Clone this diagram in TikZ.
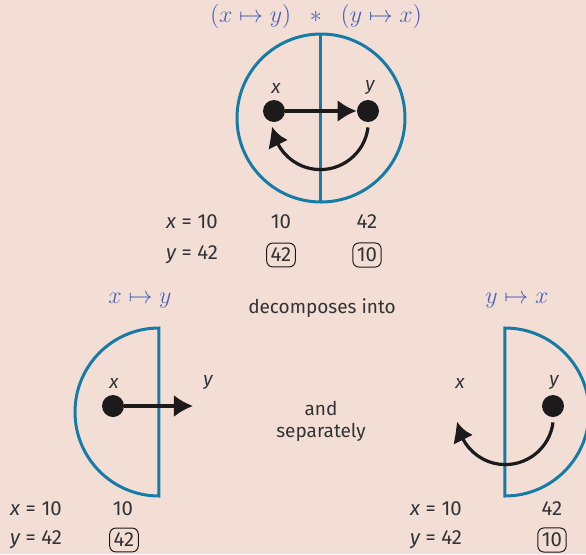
\documentclass[tikz,border=0pt]{standalone}
\usepackage{fontspec}
\setsansfont{Fira Sans}
\usetikzlibrary{arrows.meta,bending}
\definecolor{paper}{HTML}{F3DED6}
\definecolor{ringblue}{HTML}{167BA6}
\definecolor{mapblue}{HTML}{4C62B8}
\definecolor{ink}{HTML}{1C1A1A}
\definecolor{txt}{HTML}{333333}

\begin{document}
\begin{tikzpicture}[x=0.5pt, y=0.5pt,
    every node/.style={font=\sffamily\fontsize{9.5}{11}\selectfont, text=txt},
    vals/.style={font=\sffamily\fontsize{10.2}{12}\selectfont},
    maptitle/.style={font=\fontsize{11.5}{13}\selectfont, text=mapblue},
    var/.style={font=\sffamily\itshape\fontsize{9.5}{11}\selectfont},
    dot/.style={circle, fill=ink, minimum size=11pt, inner sep=0pt},
    ring/.style={draw=ringblue, line width=1.5pt},
    flow/.style={draw=ink, line width=1.6pt, -{Latex[length=9.5pt, width=11pt]}},
    backflow/.style={draw=ink, line width=1.6pt, -{Latex[length=9.5pt, width=11pt, bend]}},
    result/.style={vals, draw=ink, rounded corners=3pt, line width=0.5pt, inner xsep=2pt, inner ysep=2.5pt}
  ]
  \fill[paper] (0,0) rectangle (586,-554);
  \clip (0,0) rectangle (586,-554);

  % combined program
  \node[maptitle] (both) at (316,-16) {$(x \mapsto y)\;\;\ast\;\;(y \mapsto x)$};
  \draw[ring] (321,-118) circle[radius=42pt];
  \draw[ring] (321,-34) -- (321,-202);
  \node[dot] (xdot) at (274,-111) {};
  \node[dot] (ydot) at (368,-111) {};
  \node[var] (xlab) at (276,-88) {x};
  \node[var] (ylab) at (370,-88) {y};
  \draw[flow] (xdot) -- (ydot);
  \draw[backflow] ([yshift=-2.5pt]ydot.south) arc[start angle=-7, end angle=-174, radius=24pt];

  \node[vals] (xin) at (192,-222) {{\itshape x}\;=\;10};
  \node[vals] (yin) at (192,-255) {{\itshape y}\;=\;42};
  \node[vals] (xa) at (281,-222) {10};
  \node[result] (ya) at (281,-255) {42};
  \node[vals] (xb) at (367,-222) {42};
  \node[result] (yb) at (367,-255) {10};

  \node (dec) at (322,-308) {decomposes into};
  \node[align=center] (sep) at (321,-421) {and\\separately};

  % left half
  \node[maptitle] (ltitle) at (140,-301) {$x \mapsto y$};
  \draw[ring] (159,-328) arc[start angle=90, end angle=270, radius=42pt] -- cycle;
  \node[dot] (lxdot) at (113,-406) {};
  \coordinate (lout) at (193,-406);
  \node[var] (lxlab) at (114,-383) {x};
  \node[var] (lylab) at (208,-383) {y};
  \draw[flow] (lxdot) -- (lout);
  \node[vals] (lxin) at (36,-509) {{\itshape x}\;=\;10};
  \node[vals] (lyin) at (36,-540) {{\itshape y}\;=\;42};
  \node[vals] (lxa) at (123,-509) {10};
  \node[result] (lya) at (124,-540) {42};

  % right half
  \node[maptitle] (rtitle) at (517,-301) {$y \mapsto x$};
  \draw[ring] (505,-328) arc[start angle=90, end angle=-90, radius=42pt] -- cycle;
  \node[dot] (rydot) at (553,-406) {};
  \node[var] (rxlab) at (460,-383) {x};
  \node[var] (rylab) at (554,-383) {y};
  \draw[backflow] ([yshift=-2.5pt]rydot.south) arc[start angle=-7, end angle=-174, radius=24pt];
  \node[vals] (rxin) at (436,-509) {{\itshape x}\;=\;10};
  \node[vals] (ryin) at (436,-540) {{\itshape y}\;=\;42};
  \node[vals] (rxa) at (552,-509) {42};
  \node[result] (rya) at (552,-540) {10};
\end{tikzpicture}
\end{document}
